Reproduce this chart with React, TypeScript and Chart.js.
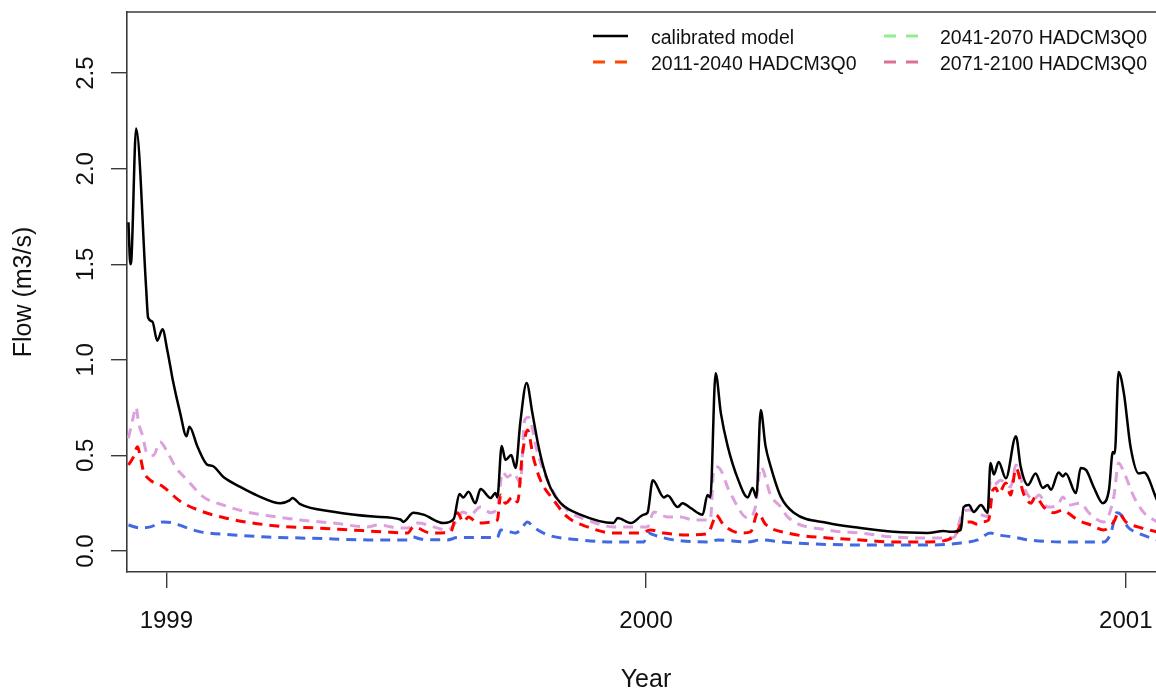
import React, { useEffect, useRef } from "react";
import { Chart, registerables } from "chart.js";

Chart.register(...registerables);

// ---- Data (decimal years, flow m3/s) ----
const calibratedYears = [
  1998.921, 1998.925, 1998.927, 1998.937, 1998.958, 1998.962, 1998.971, 1998.981, 1998.992, 1999.002,
  1999.008, 1999.013, 1999.029, 1999.042, 1999.048, 1999.065, 1999.086, 1999.096, 1999.119, 1999.154,
  1999.190, 1999.238, 1999.257, 1999.263, 1999.279, 1999.348, 1999.432, 1999.488, 1999.494, 1999.515,
  1999.536, 1999.578, 1999.599, 1999.611, 1999.619, 1999.630, 1999.644, 1999.655, 1999.676, 1999.686,
  1999.690, 1999.699, 1999.707, 1999.719, 1999.728, 1999.738, 1999.751, 1999.763, 1999.774, 1999.786,
  1999.801, 1999.822,
  1999.863, 1999.932, 1999.941, 1999.968, 1999.995, 2000.003, 2000.014, 2000.037, 2000.045, 2000.066,
  2000.076, 2000.093, 2000.118, 2000.128, 2000.134, 2000.145, 2000.156, 2000.170, 2000.191, 2000.212,
  2000.222, 2000.230,
  2000.239, 2000.249, 2000.260, 2000.281, 2000.308, 2000.379, 2000.447, 2000.516, 2000.587, 2000.620,
  2000.635,
  2000.656, 2000.662, 2000.673, 2000.683, 2000.698, 2000.712, 2000.718, 2000.725, 2000.735, 2000.750,
  2000.771, 2000.781, 2000.796, 2000.812, 2000.827, 2000.837, 2000.844, 2000.860, 2000.869, 2000.875,
  2000.896,
  2000.906, 2000.917, 2000.933, 2000.952, 2000.965, 2000.973, 2000.977, 2000.985, 2000.996, 2001.010,
  2001.027, 2001.038, 2001.065,
];
const calibratedFlow = [
  1.72, 1.5, 1.52, 2.21, 1.37, 1.22, 1.2, 1.1, 1.16, 1.05,
  0.97, 0.9, 0.72, 0.6, 0.65, 0.545, 0.45, 0.445, 0.387, 0.335,
  0.29, 0.25, 0.265, 0.277, 0.245, 0.205, 0.18, 0.165, 0.152, 0.2,
  0.19, 0.146, 0.167, 0.298, 0.28, 0.31, 0.25, 0.324, 0.277, 0.303,
  0.28, 0.549, 0.476, 0.502, 0.434, 0.675, 0.879, 0.722, 0.57, 0.44,
  0.33, 0.25,
  0.19, 0.146, 0.173, 0.146, 0.19, 0.2, 0.37, 0.28, 0.29, 0.23,
  0.25, 0.225, 0.19, 0.293, 0.28, 0.93, 0.72, 0.55, 0.38, 0.28,
  0.33, 0.28,
  0.737, 0.55, 0.44, 0.283, 0.2, 0.146, 0.12, 0.1, 0.094, 0.105,
  0.1,
  0.11, 0.23, 0.24, 0.204, 0.24, 0.2, 0.46, 0.4, 0.466, 0.38,
  0.6, 0.44, 0.345, 0.406, 0.33, 0.345, 0.32, 0.41, 0.39, 0.406,
  0.303,
  0.434, 0.424, 0.335, 0.25, 0.32, 0.518, 0.51, 0.936, 0.826, 0.544,
  0.406, 0.41, 0.267,
];

const scenario2011Years = [
  1998.921, 1998.931, 1998.940, 1998.946, 1998.952, 1998.962, 1998.994, 1999.029, 1999.071, 1999.119,
  1999.175, 1999.244, 1999.315, 1999.384, 1999.453, 1999.503, 1999.515, 1999.551, 1999.592, 1999.607,
  1999.619, 1999.630, 1999.649, 1999.676, 1999.690, 1999.697, 1999.707, 1999.722, 1999.732, 1999.742,
  1999.753, 1999.765, 1999.780, 1999.807, 1999.836, 1999.878, 1999.932, 1999.989, 2000.009, 2000.037,
  2000.087, 2000.128, 2000.141, 2000.145, 2000.162, 2000.197, 2000.218, 2000.233, 2000.249, 2000.295,
  2000.379, 2000.447, 2000.516, 2000.587, 2000.641, 2000.660, 2000.677, 2000.691, 2000.702, 2000.714,
  2000.723, 2000.729, 2000.735, 2000.750, 2000.760, 2000.771, 2000.787, 2000.802, 2000.812, 2000.829,
  2000.850, 2000.869, 2000.879, 2000.900, 2000.927, 2000.954, 2000.975, 2000.985, 2001.000, 2001.025,
  2001.065,
];
const scenario2011Flow = [
  0.45, 0.49, 0.545, 0.49, 0.42, 0.38, 0.335, 0.26, 0.21, 0.175,
  0.148, 0.128, 0.12, 0.11, 0.1, 0.094, 0.126, 0.094, 0.097, 0.2,
  0.152, 0.178, 0.146, 0.15, 0.162, 0.293, 0.25, 0.283, 0.256, 0.5,
  0.633, 0.49, 0.37, 0.267, 0.178, 0.126, 0.094, 0.094, 0.11, 0.094,
  0.084, 0.09, 0.162, 0.19, 0.136, 0.094, 0.1, 0.2, 0.14, 0.094,
  0.068, 0.058, 0.047, 0.047, 0.073, 0.146, 0.152, 0.14, 0.152, 0.162,
  0.32, 0.33, 0.3, 0.356, 0.293, 0.434, 0.3, 0.25, 0.283, 0.23,
  0.2, 0.214, 0.2, 0.162, 0.136, 0.11, 0.152, 0.2, 0.152, 0.126,
  0.1,
];

const scenario2041Years: number[] = [];
const scenario2041Flow: number[] = [];

const scenario2071Years = [
  1998.921, 1998.931, 1998.937, 1998.942, 1998.950, 1998.960, 1998.973, 1998.987, 1999.002, 1999.019,
  1999.044, 1999.077, 1999.119, 1999.175, 1999.231, 1999.279, 1999.348, 1999.419, 1999.440, 1999.488,
  1999.503, 1999.523, 1999.586, 1999.607, 1999.617, 1999.634, 1999.655, 1999.676, 1999.690, 1999.701,
  1999.711, 1999.724, 1999.738, 1999.747, 1999.755, 1999.774, 1999.801, 1999.836, 1999.878, 1999.932,
  2000.003, 2000.016, 2000.045, 2000.072, 2000.099, 2000.134, 2000.141, 2000.149, 2000.176, 2000.212,
  2000.228, 2000.239, 2000.260, 2000.281, 2000.295, 2000.379, 2000.447, 2000.516, 2000.587, 2000.641,
  2000.660, 2000.673, 2000.698, 2000.712, 2000.718, 2000.725, 2000.739, 2000.760, 2000.771, 2000.787,
  2000.808, 2000.819, 2000.837, 2000.858, 2000.869, 2000.881, 2000.906, 2000.923, 2000.954, 2000.975,
  2000.985, 2000.996, 2001.017, 2001.038, 2001.065,
];
const scenario2071Flow = [
  0.59, 0.7, 0.753, 0.67, 0.607, 0.51, 0.5, 0.57, 0.518, 0.44,
  0.37, 0.283, 0.24, 0.2, 0.178, 0.162, 0.146, 0.126, 0.136, 0.12,
  0.12, 0.146, 0.11, 0.162, 0.204, 0.19, 0.23, 0.2, 0.23, 0.413,
  0.387, 0.408, 0.356, 0.685, 0.7, 0.51, 0.335, 0.214, 0.162, 0.126,
  0.126, 0.204, 0.178, 0.178, 0.162, 0.162, 0.424, 0.44, 0.3, 0.173,
  0.23, 0.44, 0.29, 0.23, 0.178, 0.11, 0.094, 0.073, 0.068, 0.07,
  0.2, 0.214, 0.19, 0.18, 0.37, 0.345, 0.37, 0.335, 0.45, 0.335,
  0.267, 0.293, 0.23, 0.24, 0.283, 0.24, 0.25, 0.2, 0.152, 0.283,
  0.46, 0.413, 0.283, 0.2, 0.152,
];

const extraScenarioYears = [
  1998.921, 1998.946, 1998.967, 1998.994, 1999.015, 1999.044, 1999.071, 1999.140, 1999.211, 1999.279,
  1999.348, 1999.419, 1999.503, 1999.513, 1999.530, 1999.586, 1999.607, 1999.690, 1999.697, 1999.717,
  1999.728, 1999.738, 1999.753, 1999.765, 1999.795, 1999.863, 1999.932, 1999.995, 2000.005, 2000.016,
  2000.057, 2000.134, 2000.149, 2000.212, 2000.239, 2000.281, 2000.308, 2000.447, 2000.587, 2000.656,
  2000.691, 2000.718, 2000.733, 2000.766, 2000.796, 2000.900, 2000.954, 2000.969, 2000.981, 2000.990,
  2001.004, 2001.025, 2001.065,
];
const extraScenarioFlow = [
  0.136, 0.12, 0.126, 0.152, 0.146, 0.12, 0.1, 0.084, 0.073, 0.068,
  0.063, 0.058, 0.058, 0.073, 0.063, 0.058, 0.07, 0.07, 0.11, 0.1,
  0.094, 0.11, 0.152, 0.126, 0.084, 0.058, 0.047, 0.047, 0.094, 0.084,
  0.058, 0.047, 0.058, 0.047, 0.058, 0.047, 0.042, 0.031, 0.031, 0.042,
  0.058, 0.094, 0.084, 0.073, 0.058, 0.047, 0.047, 0.094, 0.2, 0.19,
  0.126, 0.094, 0.058,
];

const yTickValues = [0, 0.5, 1, 1.5, 2, 2.5];
const yTickLabels = ["0.0", "0.5", "1.0", "1.5", "2.0", "2.5"];
const xTickValues = [1999, 2000, 2001];
const xTickLabels = ["1999", "2000", "2001"];

const legendLabels = ["calibrated model", "2011-2040 HADCM3Q0", "2041-2070 HADCM3Q0", "2071-2100 HADCM3Q0"];
const legendColors = ["#000000", "#FF4500", "#90EE90", "#DB7093"];
const legendDashed = [false, true, true, true];

const FONT = '"Liberation Sans", Arial, Helvetica, sans-serif';
const AXIS_COLOR = "#3a3a3a";

function pairs(xs: number[], ys: number[]) {
  return xs.map((x, i) => ({ x, y: ys[i] }));
}

const overlayPlugin = {
  id: "overlay",
  afterDraw(chart: any) {
    const { ctx, chartArea, scales } = chart;
    ctx.save();
    // top frame line
    ctx.strokeStyle = AXIS_COLOR;
    ctx.lineWidth = 1.6;
    ctx.beginPath();
    ctx.moveTo(chartArea.left, chartArea.top);
    ctx.lineTo(chartArea.right, chartArea.top);
    ctx.stroke();

    ctx.fillStyle = "#111";
    ctx.font = `24px ${FONT}`;
    ctx.textAlign = "center";
    ctx.textBaseline = "alphabetic";
    // y tick labels (rotated)
    yTickValues.forEach((v, i) => {
      const y = scales.y.getPixelForValue(v);
      ctx.save();
      ctx.translate(93, y);
      ctx.rotate(-Math.PI / 2);
      ctx.fillText(yTickLabels[i], 0, 0);
      ctx.restore();
    });
    // x tick labels
    xTickValues.forEach((v, i) => {
      const x = scales.x.getPixelForValue(v);
      ctx.fillText(xTickLabels[i], x, 628);
    });
    // axis titles
    ctx.font = `25px ${FONT}`;
    ctx.fillText("Year", 646, 687);
    ctx.save();
    ctx.translate(31, (chartArea.top + chartArea.bottom) / 2);
    ctx.rotate(-Math.PI / 2);
    ctx.fillText("Flow (m3/s)", 0, 0);
    ctx.restore();

    // legend (two columns, no box)
    const cols = [
      { x0: 593, x1: 628, tx: 651 },
      { x0: 884, x1: 918, tx: 940 },
    ];
    const rows = [36, 62];
    ctx.font = `19.5px ${FONT}`;
    ctx.textAlign = "left";
    legendLabels.forEach((label, i) => {
      const c = cols[Math.floor(i / 2)];
      const ry = rows[i % 2];
      ctx.save();
      ctx.strokeStyle = legendColors[i];
      ctx.lineWidth = legendDashed[i] ? 3 : 2.5;
      ctx.setLineDash(legendDashed[i] ? [12, 10] : []);
      ctx.beginPath();
      ctx.moveTo(c.x0, ry);
      ctx.lineTo(c.x1, ry);
      ctx.stroke();
      ctx.restore();
      ctx.fillStyle = "#111";
      ctx.fillText(label, c.tx, ry + 7.5);
    });
    ctx.restore();
  },
};

export default function App() {
  const canvasRef = useRef<HTMLCanvasElement | null>(null);

  useEffect(() => {
    if (!canvasRef.current) return;
    const dashed = {
      borderWidth: 3,
      borderDash: [10, 7],
      pointRadius: 0,
      cubicInterpolationMode: "monotone",
      fill: false,
    };
    const chart = new Chart(canvasRef.current, {
      type: "line",
      data: {
        datasets: [
          {
            label: legendLabels[0],
            data: pairs(calibratedYears, calibratedFlow),
            borderColor: "#000000",
            borderWidth: 2.5,
            pointRadius: 0,
            cubicInterpolationMode: "monotone",
            fill: false,
          },
          { label: legendLabels[1], data: pairs(scenario2011Years, scenario2011Flow), borderColor: "#FF0000", ...dashed },
          { label: legendLabels[2], data: pairs(scenario2041Years, scenario2041Flow), borderColor: "#90EE90", ...dashed },
          { label: legendLabels[3], data: pairs(scenario2071Years, scenario2071Flow), borderColor: "#DDA0DD", ...dashed },
          { label: "HADCM3Q0 (other)", data: pairs(extraScenarioYears, extraScenarioFlow), borderColor: "#4169E1", ...dashed },
        ],
      },
      options: {
        responsive: false,
        animation: false,
        events: [],
        layout: { padding: { top: 12, left: 0, right: 0, bottom: 0 } },
        plugins: { legend: { display: false }, tooltip: { enabled: false }, title: { display: false } },
        scales: {
          x: {
            type: "linear",
            min: 1998.918,
            max: 2001.063,
            afterBuildTicks: (scale: any) => {
              scale.ticks = xTickValues.map((v) => ({ value: v }));
            },
            afterFit: (scale: any) => {
              scale.height = 118;
            },
            ticks: { display: false },
            grid: { drawOnChartArea: false, drawTicks: true, tickLength: 16, color: AXIS_COLOR, lineWidth: 1.4 },
            border: { display: true, color: AXIS_COLOR, width: 1.6 },
          },
          y: {
            type: "linear",
            min: -0.11,
            max: 2.82,
            afterBuildTicks: (scale: any) => {
              scale.ticks = yTickValues.map((v) => ({ value: v }));
            },
            afterFit: (scale: any) => {
              scale.width = 127;
            },
            ticks: { display: false },
            grid: { drawOnChartArea: false, drawTicks: true, tickLength: 16, color: AXIS_COLOR, lineWidth: 1.4 },
            border: { display: true, color: AXIS_COLOR, width: 1.6 },
          },
        },
      },
      plugins: [overlayPlugin],
    } as any);
    return () => chart.destroy();
  }, []);

  return (
    <div style={{ position: "fixed", left: 0, top: 0, width: 1156, height: 690, background: "#fff", overflow: "hidden" }}>
      <canvas ref={canvasRef} width={1156} height={690} style={{ display: "block" }} />
    </div>
  );
}
